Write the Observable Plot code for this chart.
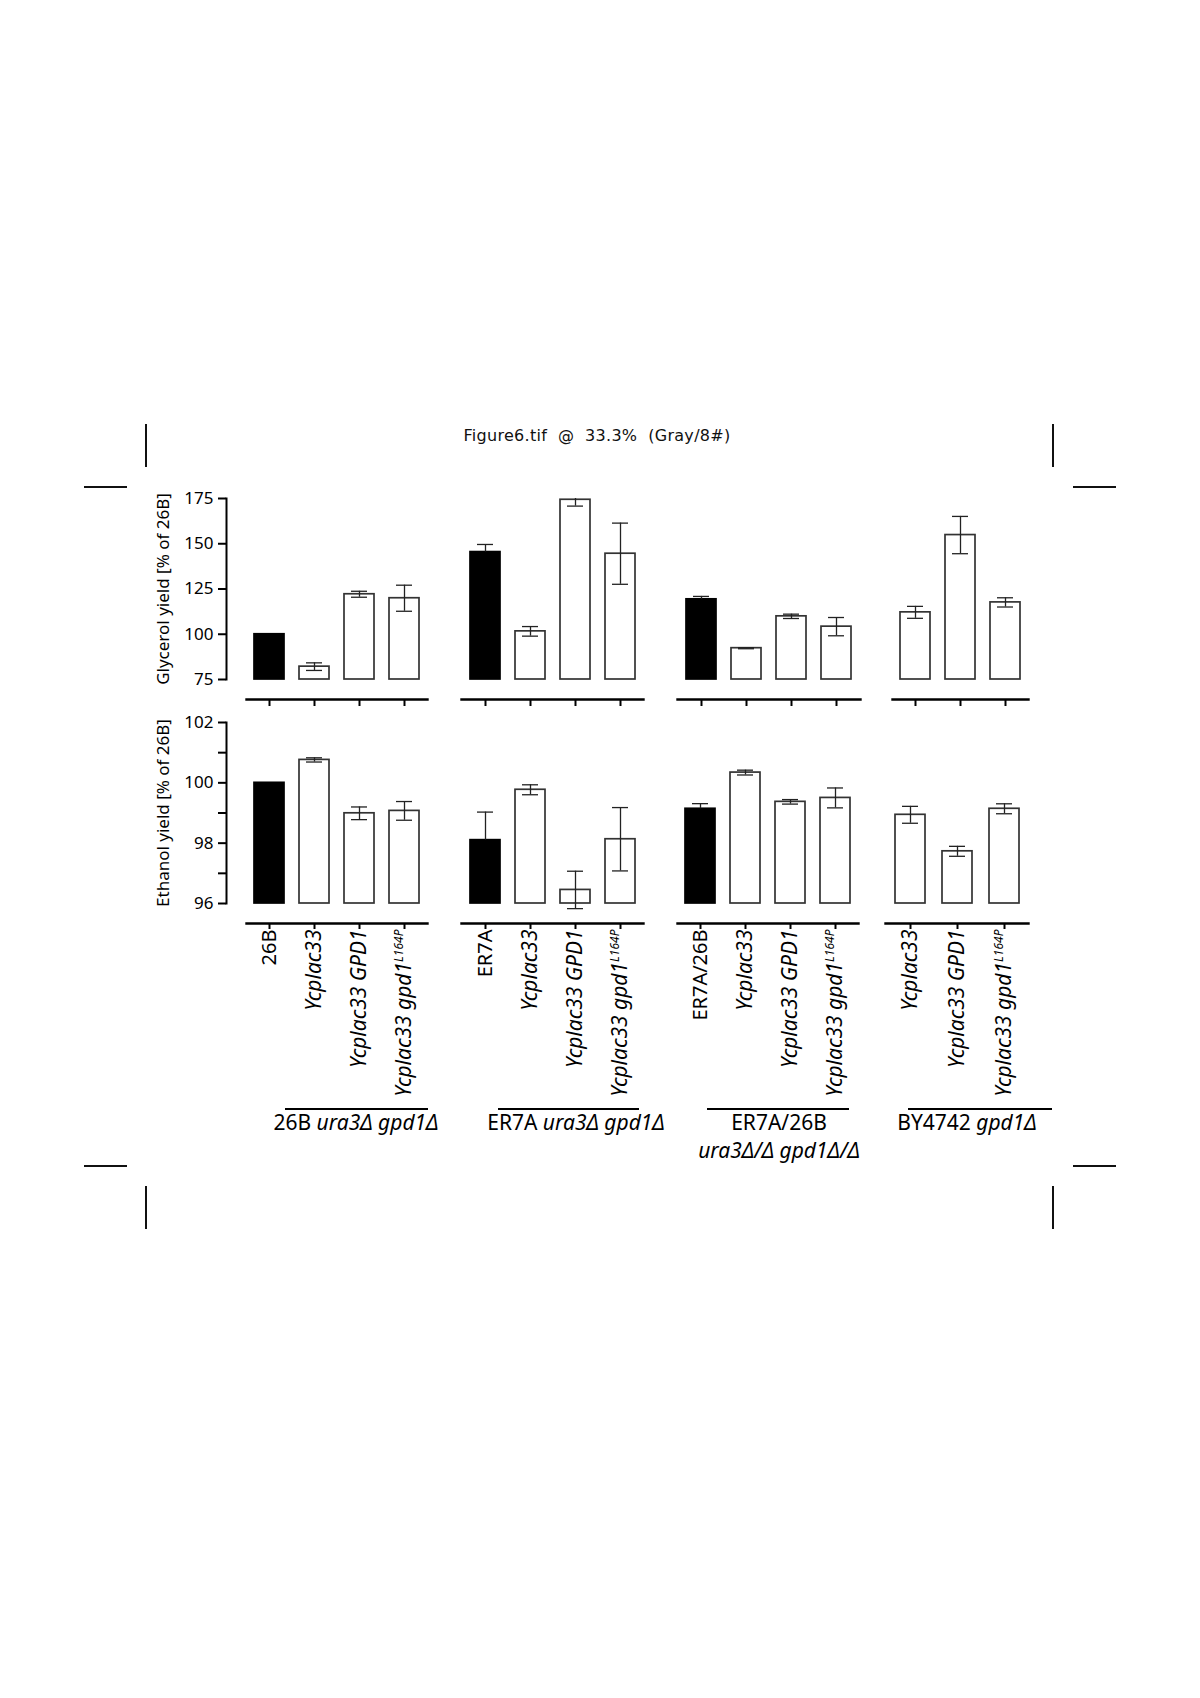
<!DOCTYPE html>
<html>
<head>
<meta charset="utf-8">
<script src="https://cdn.jsdelivr.net/npm/d3@7"></script>
<script src="https://cdn.jsdelivr.net/npm/@observablehq/plot@0.6"></script>
<style>
  html, body { margin: 0; padding: 0; background: #fff; }
  #page { position: relative; width: 1200px; height: 1698px; background: #fff; font-family: "Noto Sans", sans-serif; color: #000; overflow: hidden; }
  .crop { position: absolute; background: #111; }
  .title { position: absolute; left: 0; width: 1194px; top: 426px; text-align: center; font-family: "DejaVu Sans", sans-serif; font-size: 16px; letter-spacing: 0.3px; line-height: 20px; white-space: pre; color: #111; }
  .glabel { position: absolute; font-size: 21px; line-height: 28px; white-space: nowrap; transform: translateX(-50%); text-align: center; color: #000; }
  .oline { position: absolute; height: 2px; background: #000; }
</style>
</head>
<body>
<div id="page">
  <div class="title">Figure6.tif  @  33.3%  (Gray/8#)</div>
</div>
<script>
// ---------------- data ----------------
const groupNames = ["26B ura3Δ gpd1Δ", "ER7A ura3Δ gpd1Δ", "ER7A/26B ura3Δ/Δ gpd1Δ/Δ", "BY4742 gpd1Δ"];
const strains = [
  ["26B", "Ycplac33", "Ycplac33 GPD1", "Ycplac33 gpd1L164P"],
  ["ER7A", "Ycplac33", "Ycplac33 GPD1", "Ycplac33 gpd1L164P"],
  ["ER7A/26B", "Ycplac33", "Ycplac33 GPD1", "Ycplac33 gpd1L164P"],
  ["Ycplac33", "Ycplac33 GPD1", "Ycplac33 gpd1L164P"]
];
const parental = ["26B", "ER7A", "ER7A/26B"]; // drawn as black bars
const glycerolMean = [[100, 82.1, 122.1, 119.9], [145.4, 101.6, 174.3, 144.5], [119.3, 92.3, 109.9, 104.2], [112.1, 154.8, 117.6]];
const glycerolErr  = [[0, 2.1, 1.65, 7.2], [4.2, 2.65, 3.5, 16.9], [1.6, 0.3, 1.2, 5.05], [3.3, 10.3, 2.55]];
const ethanolMean  = [[100, 100.76, 98.99, 99.07], [98.10, 99.77, 96.45, 98.13], [99.14, 100.34, 99.37, 99.50], [98.94, 97.73, 99.14]];
const ethanolErr   = [[0, 0.07, 0.21, 0.31], [0.93, 0.165, 0.62, 1.05], [0.17, 0.08, 0.075, 0.33], [0.28, 0.165, 0.165]];
const glycerolDomain = [75, 175];
const glycerolTicks = [75, 100, 125, 150, 175];
const ethanolDomain = [96, 102];
const ethanolTicks = [96, 97, 98, 99, 100, 101, 102];
const ethanolTickLabels = [96, 98, 100, 102];
const glycerolTitle = "Glycerol yield [% of 26B]";
const ethanolTitle = "Ethanol yield [% of 26B]";

// ---------------- layout ----------------
const FONT = '"Noto Sans", sans-serif';
const BAR_W = 30;
const AXIS_LEFT = 100, AXIS_X = 226;
const layoutGly = { top: 482, axisTop: 498, axisBottom: 679, baseline: 699,
  groups: [[246, 427], [461, 643], [677, 860], [892, 1028]] };
const layoutEth = { top: 706, axisTop: 722, axisBottom: 903, baseline: 923,
  groups: [[246, 427], [461, 643], [677, 858], [885, 1028]] };

const page = document.getElementById("page");
function place(el, left, top) {
  el.style.position = "absolute";
  el.style.left = left + "px";
  el.style.top = top + "px";
  page.appendChild(el);
}
const baseStyle = { background: "transparent", color: "#000", fontFamily: FONT, overflow: "visible" };

function yAxisPlot(L, domain, ticks, labeled, label) {
  const ml = AXIS_X - AXIS_LEFT;
  const mt = L.axisTop - L.top;
  const fb = L.axisBottom - L.top;
  const svg = Plot.plot({
    width: ml + 1, height: fb + 12,
    marginLeft: ml, marginRight: 1, marginTop: mt, marginBottom: 12,
    style: baseStyle,
    y: { domain },
    marks: [
      Plot.frame({ anchor: "left", stroke: "#000", strokeWidth: 2 }),
      Plot.axisY(ticks, {
        tickSize: 8, tickPadding: 5, strokeWidth: 2, stroke: "#000", fontSize: 17,
        tickFormat: d => labeled.includes(d) ? String(d) : "",
        label, labelAnchor: "center", labelOffset: 70, labelArrow: "none"
      })
    ]
  });
  place(svg, AXIS_LEFT, L.top);
}

function groupPlot(L, gi, means, errs, base, domain, withLabels) {
  const [x0, x1] = L.groups[gi];
  const cats = strains[gi];
  const n = cats.length;
  const width = x1 - x0;
  const mt = L.axisTop - L.top;
  const fb = L.baseline - L.top;
  const mb = withLabels ? 200 : 12;
  const pi = 1 - BAR_W / (width / n);
  const rows = cats.map((s, i) => ({ s, v: means[gi][i], e: errs[gi][i], black: parental.includes(s) }));
  const withErr = rows.filter(d => d.e > 0);
  const lowerErr = withErr.filter(d => !d.black); // lower whisker hidden inside black bars
  const upright = cats.filter(s => parental.includes(s));
  const italic = cats.filter(s => !parental.includes(s));
  const errStyle = { stroke: "#222", strokeWidth: 1.3, clip: true };
  const marks = [
    Plot.barY(rows, { x: "s", y1: () => base, y2: "v",
      fill: d => d.black ? "#000" : "#fff", stroke: d => d.black ? "#000" : "#333", strokeWidth: 1.7 }),
    Plot.ruleX(withErr, { x: "s", y1: d => d.black ? d.v : d.v - d.e, y2: d => d.v + d.e, ...errStyle }),
    Plot.tickY(withErr, { x: "s", y: d => d.v + d.e, insetLeft: 7, insetRight: 7, ...errStyle }),
    Plot.tickY(lowerErr, { x: "s", y: d => d.v - d.e, insetLeft: 7, insetRight: 7, ...errStyle }),
    Plot.frame({ anchor: "bottom", stroke: "#000", strokeWidth: 2.4 })
  ];
  if (withLabels) {
    const axOpts = { tickSize: 6, tickPadding: 0, tickRotate: -90, fontSize: 20, strokeWidth: 2, stroke: "#000", label: null };
    if (upright.length) marks.push(Plot.axisX(upright, axOpts));
    if (italic.length) marks.push(Plot.axisX(italic, { ...axOpts, fontSize: 21, fontStyle: "italic" }));
  } else {
    marks.push(Plot.axisX({ tickSize: 7, strokeWidth: 2, stroke: "#000", tickFormat: () => "", label: null }));
  }
  const svg = Plot.plot({
    width, height: fb + mb,
    marginLeft: 0, marginRight: 0, marginTop: mt, marginBottom: mb,
    style: baseStyle,
    x: { domain: cats, paddingInner: pi, paddingOuter: pi / 2 },
    y: { domain, range: [L.axisBottom - L.top, mt], axis: null },
    marks
  });
  // superscript allele name
  svg.querySelectorAll("text").forEach(t => {
    const s = t.textContent;
    if (s.endsWith("L164P") && t.children.length === 0) {
      t.textContent = s.slice(0, -5);
      const ts = document.createElementNS("http://www.w3.org/2000/svg", "tspan");
      ts.setAttribute("font-size", "12");
      ts.setAttribute("dy", "-8");
      ts.textContent = "L164P";
      t.appendChild(ts);
    }
  });
  place(svg, x0, L.top);
}

yAxisPlot(layoutGly, glycerolDomain, glycerolTicks, glycerolTicks, glycerolTitle);
yAxisPlot(layoutEth, ethanolDomain, ethanolTicks, ethanolTickLabels, ethanolTitle);
for (let g = 0; g < strains.length; g++) {
  groupPlot(layoutGly, g, glycerolMean, glycerolErr, glycerolDomain[0], glycerolDomain, false);
  groupPlot(layoutEth, g, ethanolMean, ethanolErr, ethanolDomain[0], ethanolDomain, true);
}

// group labels (below the rotated strain names)
const groupLabelLayout = [
  { cx: 356, line: [285, 428] },
  { cx: 576, line: [498, 639] },
  { cx: 779, line: [707, 849] },
  { cx: 967, line: [908, 1052] }
];
function italicize(str) {
  const m = str.match(/^(26B|ER7A\/26B|ER7A|BY4742) (.*)$/);
  return m ? m[1] + " <i>" + m[2] + "</i>" : str;
}
groupNames.forEach((name, i) => {
  const G = groupLabelLayout[i];
  const ol = document.createElement("div");
  ol.className = "oline";
  ol.style.left = G.line[0] + "px";
  ol.style.width = (G.line[1] - G.line[0]) + "px";
  ol.style.top = "1108px";
  page.appendChild(ol);
  const lab = document.createElement("div");
  lab.className = "glabel";
  lab.style.left = G.cx + "px";
  lab.style.top = "1108px";
  if (name.startsWith("ER7A/26B")) {
    lab.innerHTML = "ER7A/26B<br><i>" + name.slice(9) + "</i>";
  } else {
    lab.innerHTML = italicize(name);
  }
  page.appendChild(lab);
});

// crop marks of the scanned page
[
  [145, 424, 2, 43], [84, 486, 43, 2], [1052, 424, 2, 43], [1073, 486, 43, 2],
  [84, 1165, 43, 2], [145, 1186, 2, 43], [1073, 1165, 43, 2], [1052, 1186, 2, 43]
].forEach(([x, y, w, h]) => {
  const d = document.createElement("div");
  d.className = "crop";
  d.style.left = x + "px"; d.style.top = y + "px";
  d.style.width = w + "px"; d.style.height = h + "px";
  page.appendChild(d);
});
</script>
</body>
</html>
